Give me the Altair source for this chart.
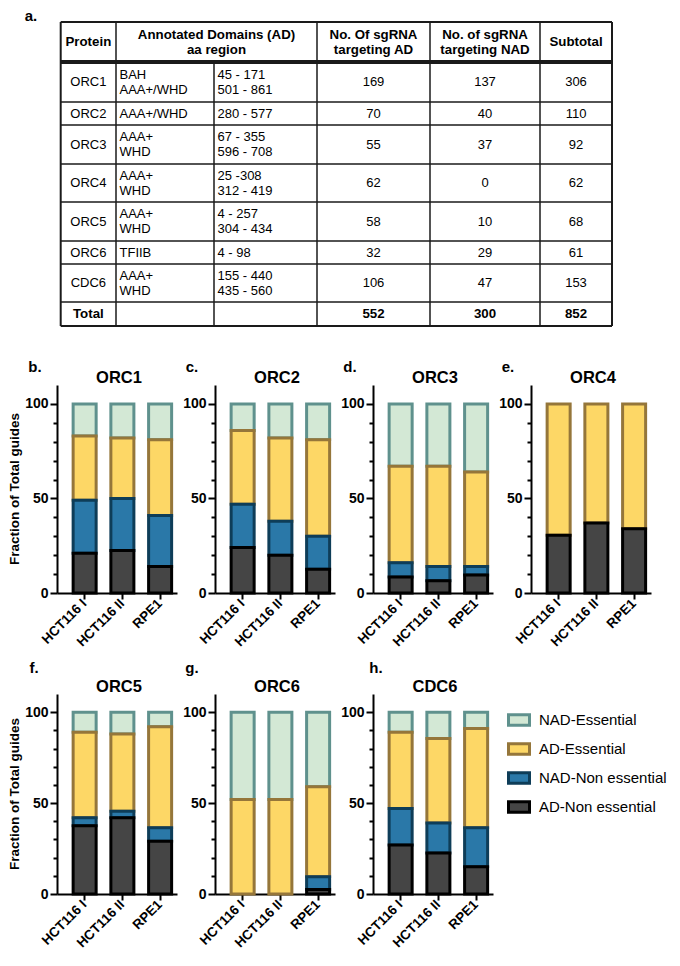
import altair as alt
import pandas as pd

FONT = "Liberation Sans"

# ---------------- table data ----------------
table_header = ["Protein", "Annotated Domains (AD)\naa region", "No. Of sgRNA\ntargeting AD",
                "No. of sgRNA\ntargeting NAD", "Subtotal"]
proteins = ["ORC1", "ORC2", "ORC3", "ORC4", "ORC5", "ORC6", "CDC6"]
domains = ["BAH\nAAA+/WHD", "AAA+/WHD", "AAA+\nWHD", "AAA+\nWHD", "AAA+\nWHD", "TFIIB", "AAA+\nWHD"]
aa_regions = ["45 - 171\n501 - 861", "280 - 577", "67 - 355\n596 - 708", "25 -308\n312 - 419",
              "4 - 257\n304 - 434", "4 - 98", "155 - 440\n435 - 560"]
sg_ad = [169, 70, 55, 62, 58, 32, 106]
sg_nad = [137, 40, 37, 0, 10, 29, 47]
subtotal = [306, 110, 92, 62, 68, 61, 153]
total_label = "Total"
totals = [552, 300, 852]

# ---------------- bar data ----------------
cell_lines = ["HCT116 I", "HCT116 II", "RPE1"]
categories = ["NAD-Essential", "AD-Essential", "NAD-Non essential", "AD-Non essential"]
panel_names = ["ORC1", "ORC2", "ORC3", "ORC4", "ORC5", "ORC6", "CDC6"]
panel_letters = ["b.", "c.", "d.", "e.", "f.", "g.", "h."]
y_title = "Fraction of Total guides"
ad_non_essential = [[21, 22.5, 14], [24, 20, 12.5], [8.5, 6.5, 9.5], [30.5, 37, 34],
                    [37.5, 42, 29], [0, 0, 2.5], [27, 22.5, 15]]
nad_non_essential = [[28, 27.5, 27], [23, 18, 17.5], [7.5, 7.5, 4.5], [0, 0, 0],
                     [4.5, 3.5, 7.5], [0, 0, 7], [20, 16.5, 21.5]]
ad_essential = [[34, 32, 40], [39, 44, 51], [51, 53, 50], [69.5, 63, 66],
                [47, 42.5, 55.5], [52, 52, 49.5], [42, 46.5, 54.5]]
nad_essential = [[17, 18, 19], [14, 18, 19], [33, 33, 36], [0, 0, 0],
                 [11, 12, 8], [48, 48, 41], [11, 14.5, 9]]

fills = ["#d3e8d5", "#fdd766", "#2a78a8", "#454545"]
strokes = ["#5f918d", "#95763a", "#0e3d58", "#000000"]

# ---------------- table layout ----------------
LH = 15
TX0, TY0, TW, TH = 57, 8, 590, 340
col_edges = [60.7, 116, 214, 317, 430, 540, 612]
row_edges = [22, 62, 102, 125, 164, 202, 241, 264, 302, 326]
row_mid = [(row_edges[i] + row_edges[i + 1]) / 2 for i in range(len(row_edges) - 1)]
centers = [(col_edges[0] + col_edges[1]) / 2, (col_edges[1] + col_edges[3]) / 2,
           (col_edges[3] + col_edges[4]) / 2, (col_edges[4] + col_edges[5]) / 2,
           (col_edges[5] + col_edges[6]) / 2]


def ml(y, t):
    # shift multi-line text so that the block is centred on y
    return y - (t.count("\n")) * LH / 2


xs = alt.Scale(domain=[TX0, TX0 + TW], nice=False, zero=False)
ys = alt.Scale(domain=[TY0, TY0 + TH], reverse=True, nice=False, zero=False)

lines = []
for y, w in [(row_edges[0], 2), (row_edges[1], 4), (row_edges[-1], 2)]:
    lines.append({"x1": col_edges[0], "x2": col_edges[-1], "y1": y, "y2": y, "w": w})
for y in row_edges[2:-1]:
    lines.append({"x1": col_edges[0], "x2": col_edges[-1], "y1": y, "y2": y, "w": 1.5})
for x in [col_edges[0], col_edges[-1]]:
    lines.append({"x1": x, "x2": x, "y1": row_edges[0], "y2": row_edges[-1], "w": 2})
for x in [col_edges[1], col_edges[3], col_edges[4], col_edges[5]]:
    lines.append({"x1": x, "x2": x, "y1": row_edges[0], "y2": row_edges[-1], "w": 1.5})
lines.append({"x1": col_edges[2], "x2": col_edges[2], "y1": row_edges[1], "y2": row_edges[-1], "w": 1.5})
lines_df = pd.DataFrame(lines)

rules = alt.Chart(lines_df).mark_rule(color="#1a1a1a").encode(
    x=alt.X("x1:Q", scale=xs, axis=None), x2="x2:Q",
    y=alt.Y("y1:Q", scale=ys, axis=None), y2="y2:Q",
    strokeWidth=alt.StrokeWidth("w:Q", scale=None),
)

hdr_df = pd.DataFrame({"t": table_header, "x": centers,
                       "y": [ml(row_mid[0], t) for t in table_header]})
body_c = []
for i in range(len(proteins)):
    y = row_mid[i + 1]
    body_c += [{"t": proteins[i], "x": centers[0], "y": y},
               {"t": str(sg_ad[i]), "x": centers[2], "y": y},
               {"t": str(sg_nad[i]), "x": centers[3], "y": y},
               {"t": str(subtotal[i]), "x": centers[4], "y": y}]
body_l = []
for i in range(len(proteins)):
    y = row_mid[i + 1]
    body_l += [{"t": domains[i], "x": col_edges[1] + 3.5, "y": ml(y, domains[i])},
               {"t": aa_regions[i], "x": col_edges[2] + 3.5, "y": ml(y, aa_regions[i])}]
tot_df = pd.DataFrame({"t": [total_label] + [str(v) for v in totals],
                       "x": [centers[0], centers[2], centers[3], centers[4]],
                       "y": [row_mid[-1]] * 4})
lab_df = pd.DataFrame({"t": ["a."], "x": [31], "y": [16]})


def txt(df, align, weight, size):
    return alt.Chart(df).mark_text(align=align, baseline="middle", lineBreak="\n", lineHeight=LH,
                                   font=FONT, fontWeight=weight, fontSize=size, color="black").encode(
        x=alt.X("x:Q", scale=xs, axis=None), y=alt.Y("y:Q", scale=ys, axis=None), text="t:N")


table = alt.layer(
    rules,
    txt(hdr_df, "center", "bold", 13.3),
    txt(pd.DataFrame(body_c), "center", "normal", 13),
    txt(pd.DataFrame(body_l), "left", "normal", 13),
    txt(tot_df, "center", "bold", 13.3),
    txt(lab_df, "center", "bold", 15),
).properties(width=TW, height=TH)

# ---------------- bar panels ----------------
RECT = "M-1,-0.5H1V0.5H-1Z"
leg = alt.Legend(orient="none", legendX=450, legendY=700, title=None, symbolType=RECT,
                 symbolSize=441, symbolStrokeWidth=3, symbolOpacity=1, labelFont=FONT,
                 labelFontSize=15, labelColor="black", rowPadding=5, labelOffset=8, padding=0)

series_bottom_up = [("AD-Non essential", ad_non_essential), ("NAD-Non essential", nad_non_essential),
                    ("AD-Essential", ad_essential), ("NAD-Essential", nad_essential)]

letter_dx = [-22, -23, -23, -23, -23, -23, 3]


def panel(i, h, letter_dy, show_ytitle):
    rows = []
    for k in reversed(range(4)):  # top segment first so lower outlines draw on top
        cat, vals = series_bottom_up[k]
        for j, cl in enumerate(cell_lines):
            v = vals[i][j]
            if v > 0:
                rows.append({"cell": cl, "cat": cat, "value": v, "ord": k})
    df = pd.DataFrame(rows)
    yaxis = alt.Axis(values=list(range(0, 101, 10)), title=None,
                     labelExpr="datum.value % 50 === 0 ? datum.label : ''",
                     tickSize={"condition": {"test": "datum.value % 50 === 0", "value": 7}, "value": 4},
                     tickWidth=2, tickColor="black", domainColor="black", domainWidth=2,
                     labelFont=FONT, labelFontSize=14, labelFontWeight="bold", labelColor="black",
                     labelPadding=2, labelOverlap=False, grid=False)
    bars = alt.Chart(df).transform_stack(
        stack="value", groupby=["cell"], as_=["y0", "y1"], sort=[alt.SortField("ord")]
    ).mark_bar(strokeWidth=3).encode(
        x=alt.X("cell:N", sort=cell_lines,
                scale=alt.Scale(paddingInner=0.39, paddingOuter=0.285, align=0.75),
                axis=alt.Axis(title=None, labelAngle=315, labelAlign="right", labelBaseline="middle",
                              labelFont=FONT, labelFontSize=13.5, labelFontWeight="bold",
                              labelColor="black", tickSize=6, tickWidth=2, tickColor="black",
                              domainColor="black", domainWidth=2, labelPadding=2, grid=False)),
        y=alt.Y("y0:Q", scale=alt.Scale(domain=[0, 110], nice=False), axis=yaxis),
        y2="y1:Q",
        fill=alt.Fill("cat:N", scale=alt.Scale(domain=categories, range=fills), legend=leg),
        stroke=alt.Stroke("cat:N", scale=alt.Scale(domain=categories, range=strokes), legend=leg),
    )
    title = alt.Chart(pd.DataFrame({"t": [panel_names[i]]})).mark_text(
        font=FONT, fontSize=16.5, fontWeight="bold", color="black", align="center", baseline="middle"
    ).encode(text="t:N", x=alt.value(62), y=alt.value(-7))
    letter = alt.Chart(pd.DataFrame({"t": [panel_letters[i]]})).mark_text(
        font=FONT, fontSize=15, fontWeight="bold", color="black", align="center", baseline="middle"
    ).encode(text="t:N", x=alt.value(letter_dx[i]), y=alt.value(letter_dy))
    layers = [bars, title, letter]
    if show_ytitle:
        layers.append(alt.Chart(pd.DataFrame({"t": [y_title]})).mark_text(
            font=FONT, fontSize=13.5, fontWeight="bold", color="black", align="center",
            baseline="middle", angle=270
        ).encode(text="t:N", x=alt.value(-42), y=alt.value(h / 2)))
    return alt.layer(*layers).properties(width=120, height=h)


row1 = alt.hconcat(*[panel(i, 208, -18, i == 0) for i in range(4)], spacing=38, bounds="flush")
row2 = alt.hconcat(*[panel(i, 200, -26, i == 4) for i in range(4, 7)], spacing=38, bounds="flush")

chart = alt.vconcat(table, row1, row2, spacing=12).properties(padding=0).configure_view(stroke=None)
chart.save("out.html", embed_options={"renderer": "svg", "actions": False})
